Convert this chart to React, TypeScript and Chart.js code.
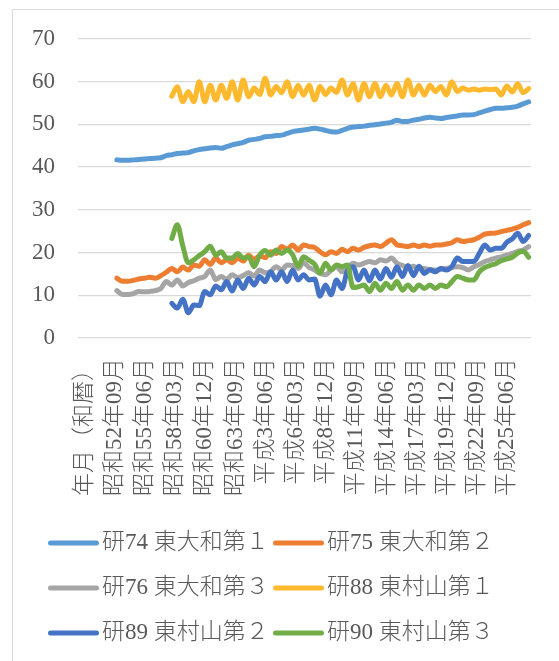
import React, { useEffect, useRef } from 'react';
import { Chart, registerables } from 'chart.js';

Chart.register(...registerables);

// ---- data -------------------------------------------------------------

const AXIS_TITLE = '年月（和暦）';
const FIRST_YEAR = 1975;
const LAST_YEAR = 2016;
const LAST_MONTH = 2;
const TICK_EVERY = 33;
const STEP_MONTHS = 6;

const SERIES_NAMES = [
  '研74 東大和第１',
  '研75 東大和第２',
  '研76 東大和第３',
  '研88 東村山第１',
  '研89 東村山第２',
  '研90 東村山第３',
];

const SERIES_COLORS = ['#5B9BD5', '#ED7D31', '#A5A5A5', '#FFB92E', '#4472C4', '#70AD47'];

// first observation of each well; values follow every STEP_MONTHS months (Jun / Dec)
const SERIES_START = [
  '昭和53年06月',
  '昭和53年06月',
  '昭和53年06月',
  '昭和58年06月',
  '昭和58年06月',
  '昭和58年06月',
];

const ken74 = [
  41.7, 41.6, 41.6, 41.7, 41.8, 41.9, 42.0, 42.1, 42.2, 42.7,
  42.9, 43.2, 43.3, 43.4, 43.8, 44.1, 44.3, 44.5, 44.6, 44.4,
  44.8, 45.2, 45.5, 45.8, 46.3, 46.5, 46.7, 47.1, 47.2, 47.4,
  47.5, 47.9, 48.3, 48.5, 48.7, 48.9, 49.1, 48.9, 48.6, 48.3,
  48.2, 48.6, 49.1, 49.4, 49.5, 49.6, 49.8, 49.9, 50.1, 50.3,
  50.5, 51.0, 50.7, 50.7, 51.0, 51.2, 51.5, 51.7, 51.5, 51.4,
  51.6, 51.8, 52.0, 52.2, 52.2, 52.3, 52.7, 53.1, 53.5, 53.8,
  53.8, 53.9, 54.0, 54.3, 54.8, 55.3,
];

const ken75 = [
  14.0, 13.3, 13.3, 13.5, 13.8, 14.0, 14.2, 14.0, 14.6, 15.4,
  16.3, 15.5, 16.6, 15.9, 17.1, 16.8, 18.3, 17.2, 18.7, 17.6,
  18.3, 17.6, 18.7, 18.0, 19.4, 18.4, 19.2, 18.8, 20.2, 19.8,
  21.4, 20.8, 21.8, 20.6, 21.8, 21.4, 21.2, 20.2, 19.5, 20.2,
  19.8, 20.8, 20.2, 21.0, 20.6, 21.2, 21.6, 21.8, 21.4, 22.2,
  23.0, 21.8, 21.6, 21.4, 21.8, 21.4, 21.8, 21.5, 21.8, 21.8,
  22.0, 22.3, 23.0, 22.6, 22.8, 23.0, 23.6, 24.3, 24.5, 24.6,
  24.9, 25.2, 25.5, 25.9, 26.5, 27.0,
];

const ken76 = [
  11.1, 10.2, 10.2, 10.4, 10.9, 10.8, 10.9, 11.1, 11.6, 13.2,
  12.4, 13.6, 12.2, 13.0, 13.4, 14.0, 14.4, 15.9, 13.7, 14.4,
  13.7, 14.8, 14.1, 14.6, 15.3, 14.5, 15.9, 15.3, 15.6, 16.7,
  15.9, 17.1, 17.0, 16.3, 17.6, 16.5, 15.9, 15.1, 14.8, 15.9,
  16.7, 15.5, 16.3, 17.5, 17.1, 17.5, 17.9, 17.6, 18.3, 18.0,
  18.7, 17.5, 17.0, 16.5, 16.8, 16.2, 16.3, 16.0, 15.9, 16.1,
  16.3, 16.5, 16.7, 16.5, 15.9, 16.7, 17.2, 17.9, 18.3, 18.7,
  19.0, 19.4, 19.8, 20.3, 20.6, 21.4,
];

const ken88 = [
  56.6, 58.8, 55.3, 57.7, 55.3, 60.0, 55.3, 59.2, 55.7, 59.2,
  56.1, 60.0, 55.7, 60.4, 56.5, 58.5, 57.0, 60.8, 56.9, 58.9,
  57.4, 60.0, 56.5, 59.2, 56.9, 59.2, 55.7, 58.9, 57.0, 58.5,
  57.5, 60.4, 56.9, 59.6, 55.7, 59.6, 56.5, 59.6, 56.5, 59.2,
  56.9, 59.6, 56.5, 60.4, 56.9, 59.2, 56.9, 59.2, 57.7, 58.9,
  56.9, 60.0, 57.7, 58.5, 58.0, 58.3, 58.0, 58.3, 58.2, 58.3,
  56.9, 59.0, 57.6, 59.5, 57.4, 58.4,
];

const ken89 = [
  8.1, 7.0, 9.1, 5.9, 7.7, 7.6, 10.9, 10.1, 12.2, 11.3,
  13.2, 11.0, 13.6, 11.6, 14.0, 12.4, 14.4, 13.2, 15.5, 13.6,
  15.5, 13.2, 15.9, 13.6, 14.8, 13.6, 13.8, 9.8, 12.4, 10.1,
  13.6, 11.6, 15.9, 16.7, 13.6, 15.9, 13.4, 15.9, 13.8, 16.3,
  14.2, 16.7, 14.4, 17.0, 14.6, 16.8, 15.1, 16.0, 15.5, 16.3,
  15.9, 16.7, 18.7, 17.9, 17.9, 17.9, 19.8, 21.8, 20.6, 21.0,
  21.0, 22.4, 23.2, 24.5, 22.6, 24.0,
];

const ken90 = [
  23.3, 26.5, 21.6, 17.6, 18.3, 19.3, 20.2, 21.5, 19.4, 20.2,
  18.7, 18.7, 19.8, 18.7, 19.0, 16.7, 19.4, 20.5, 19.4, 20.6,
  19.8, 20.6, 19.5, 16.8, 19.0, 18.2, 17.3, 15.2, 17.5, 15.9,
  17.1, 16.7, 17.1, 11.8, 12.0, 12.4, 10.9, 12.8, 11.2, 12.8,
  11.6, 13.2, 11.2, 12.4, 11.2, 12.4, 11.6, 12.4, 11.6, 12.4,
  12.0, 13.2, 14.4, 14.0, 13.6, 13.6, 15.5, 16.5, 17.0, 17.4,
  18.1, 18.5, 18.9, 19.9, 20.3, 18.9,
];

const Y_MIN = 0;
const Y_MAX = 70;
const Y_STEP = 10;

// ---- styling ----------------------------------------------------------

const WIDTH = 559;
const HEIGHT = 661;
const FONT = '"Liberation Serif", "Noto Sans CJK JP", serif';
const FONT_SIZE = 23;
const FONT_WEIGHT = 300;
const TEXT_COLOR = '#595959';
const GRID_COLOR = '#d9d9d9';
const LINE_WIDTH = 5;

const PLOT_LEFT = 78;
const PLOT_TOP = 39;
const PLOT_RIGHT = 531;
const PLOT_BOTTOM = 338;

const LEGEND_COL_X = [48, 273];
const LEGEND_ROW_Y = [543, 588, 633];
const LEGEND_LINE = 51;

// ---- helpers ----------------------------------------------------------

function warekiLabel(year: number, month: number): string {
  const mm = String(month).padStart(2, '0');
  if (year < 1989 || (year === 1989 && month === 1)) return `昭和${year - 1925}年${mm}月`;
  return `平成${year - 1988}年${mm}月`;
}

function buildCategories(): string[] {
  const out: string[] = [AXIS_TITLE];
  for (let y = FIRST_YEAR; y <= LAST_YEAR; y++) {
    for (let m = 1; m <= 12; m++) {
      if (y === LAST_YEAR && m > LAST_MONTH) break;
      out.push(warekiLabel(y, m));
    }
  }
  return out;
}

const categories = buildCategories();
const seriesValues = [ken74, ken75, ken76, ken88, ken89, ken90];

// two-column legend under the plot
const legendGrid = {
  id: 'legendGrid',
  afterDraw(chart: any) {
    const { ctx } = chart;
    ctx.save();
    chart.data.datasets.forEach((ds: any, i: number) => {
      const x = LEGEND_COL_X[i % 2];
      const y = LEGEND_ROW_Y[Math.floor(i / 2)];
      ctx.strokeStyle = ds.borderColor;
      ctx.lineWidth = LINE_WIDTH;
      ctx.lineCap = 'round';
      ctx.beginPath();
      ctx.moveTo(x + LINE_WIDTH / 2, y);
      ctx.lineTo(x + LEGEND_LINE - LINE_WIDTH / 2, y);
      ctx.stroke();
      ctx.fillStyle = TEXT_COLOR;
      ctx.font = `${FONT_WEIGHT} ${FONT_SIZE}px ${FONT}`;
      ctx.textBaseline = 'middle';
      ctx.textAlign = 'left';
      ctx.fillText(ds.label, x + LEGEND_LINE + 3, y);
    });
    ctx.restore();
  },
};

export default function App() {
  const canvasRef = useRef<HTMLCanvasElement | null>(null);

  useEffect(() => {
    const canvas = canvasRef.current;
    if (!canvas) return;

    const datasets = seriesValues.map((vals, s) => {
      const start = categories.indexOf(SERIES_START[s]);
      return {
        label: SERIES_NAMES[s],
        data: vals.map((v, k) => ({ x: categories[start + k * STEP_MONTHS], y: v })),
        borderColor: SERIES_COLORS[s],
        backgroundColor: SERIES_COLORS[s],
        borderWidth: LINE_WIDTH,
        borderCapStyle: 'round' as const,
        borderJoinStyle: 'round' as const,
        pointRadius: 0,
        cubicInterpolationMode: 'monotone' as const,
        order: seriesValues.length - s,
      };
    });

    const tickFont = { family: FONT, size: FONT_SIZE, weight: FONT_WEIGHT };

    const chart = new Chart(canvas, {
      type: 'line',
      data: { labels: categories, datasets },
      plugins: [legendGrid],
      options: {
        responsive: false,
        animation: false,
        events: [],
        layout: {
          padding: { top: PLOT_TOP, right: WIDTH - PLOT_RIGHT, left: 0, bottom: 0 },
        },
        plugins: {
          legend: { display: false },
          tooltip: { enabled: false },
        },
        scales: {
          x: {
            type: 'category',
            offset: true,
            grid: { display: false, drawTicks: false },
            border: { display: false },
            ticks: {
              autoSkip: false,
              minRotation: 90,
              maxRotation: 90,
              padding: 20,
              labelOffset: 6,
              color: TEXT_COLOR,
              font: tickFont,
              callback: function (this: any, value: any, index: number) {
                return index % TICK_EVERY === 0 ? this.getLabelForValue(value) : '';
              },
            },
            afterFit: (scale: any) => {
              scale.height = HEIGHT - PLOT_BOTTOM;
              scale.paddingLeft = 0;
              scale.paddingRight = 0;
            },
          },
          y: {
            min: Y_MIN,
            max: Y_MAX,
            ticks: {
              stepSize: Y_STEP,
              padding: 23,
              color: TEXT_COLOR,
              font: tickFont,
            },
            grid: { color: GRID_COLOR, lineWidth: 1.3, drawTicks: false },
            border: { display: false },
            afterFit: (scale: any) => {
              scale.width = PLOT_LEFT;
            },
          },
        },
      },
    });

    return () => chart.destroy();
  }, []);

  return (
    <div
      style={{
        position: 'fixed',
        left: 0,
        top: 0,
        width: WIDTH,
        height: HEIGHT,
        overflow: 'hidden',
        background: '#ffffff',
      }}
    >
      <div
        style={{
          position: 'absolute',
          left: 12,
          top: 9,
          width: WIDTH + 40,
          height: HEIGHT + 40,
          borderTop: `1px solid ${GRID_COLOR}`,
          borderLeft: `1px solid ${GRID_COLOR}`,
        }}
      />
      <canvas
        ref={canvasRef}
        width={WIDTH}
        height={HEIGHT}
        style={{ position: 'absolute', left: 0, top: 0, width: WIDTH, height: HEIGHT }}
      />
    </div>
  );
}
